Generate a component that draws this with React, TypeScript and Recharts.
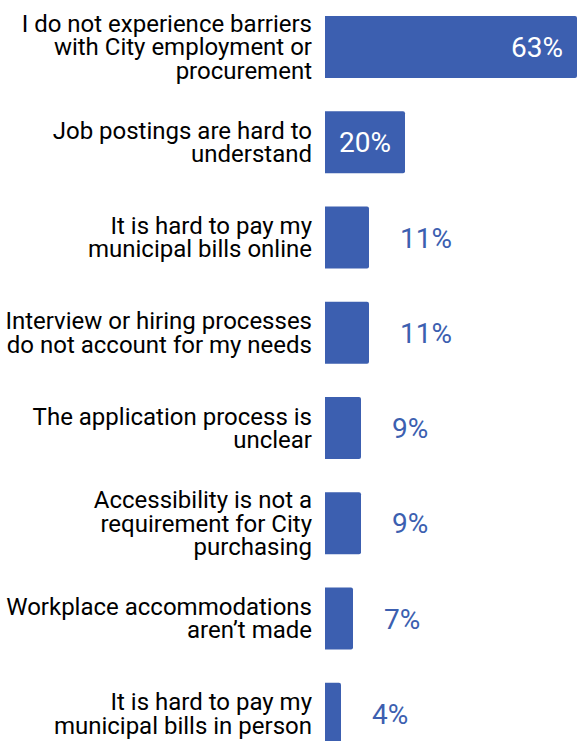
import { BarChart, Bar, XAxis, YAxis, LabelList } from "recharts";

const categories = [
  "I do not experience barriers\nwith City employment or\nprocurement",
  "Job postings are hard to\nunderstand",
  "It is hard to pay my\nmunicipal bills online",
  "Interview or hiring processes\ndo not account for my needs",
  "The application process is\nunclear",
  "Accessibility is not a\nrequirement for City\npurchasing",
  "Workplace accommodations\naren\u2019t made",
  "It is hard to pay my\nmunicipal bills in person",
];

const shares = [63, 20, 11, 11, 9, 9, 7, 4];

const data = categories.map((label, i) => ({ label, value: shares[i] }));

const BLUE = "#3c5fb0";
const LINE_H = 23.4;

function CategoryTick(props: any) {
  const { x, y, payload } = props;
  const lines: string[] = String(payload.value).split("\n");
  const start = -((lines.length - 1) * LINE_H) / 2;
  return (
    <text
      x={x}
      y={y}
      textAnchor="end"
      fontFamily="Roboto"
      fontSize={24}
      fill="#000"
    >
      {lines.map((line, i) => (
        <tspan key={i} x={x} y={y + start + i * LINE_H} dy="0.36em">
          {line}
        </tspan>
      ))}
    </text>
  );
}

function ValueLabel(props: any) {
  const { x, y, width, height, value } = props;
  const cy = y + height / 2;
  const common = {
    y: cy,
    dy: "0.36em",
    fontFamily: "Roboto",
    fontSize: 28,
  };
  if (value >= 50) {
    return (
      <text {...common} x={x + width - 14} textAnchor="end" fill="#fff">
        {value}%
      </text>
    );
  }
  if (value >= 15) {
    return (
      <text {...common} x={x + width / 2} textAnchor="middle" fill="#fff">
        {value}%
      </text>
    );
  }
  return (
    <text {...common} x={x + width + 31} textAnchor="start" fill={BLUE}>
      {value}%
    </text>
  );
}

export default function App() {
  return (
    <div style={{ position: "absolute", left: 0, top: -1, background: "#fff" }}>
      <BarChart
        width={577}
        height={762}
        data={data}
        layout="vertical"
        margin={{ top: 0, right: 0, bottom: 0, left: 0 }}
      >
        <XAxis type="number" domain={[0, 63]} hide />
        <YAxis
          type="category"
          dataKey="label"
          width={325}
          axisLine={false}
          tickLine={false}
          tickSize={0}
          tickMargin={13}
          interval={0}
          tick={<CategoryTick />}
        />
        <Bar
          dataKey="value"
          fill={BLUE}
          barSize={62}
          radius={[0, 2, 2, 0]}
          isAnimationActive={false}
        >
          <LabelList dataKey="value" content={<ValueLabel />} />
        </Bar>
      </BarChart>
    </div>
  );
}
